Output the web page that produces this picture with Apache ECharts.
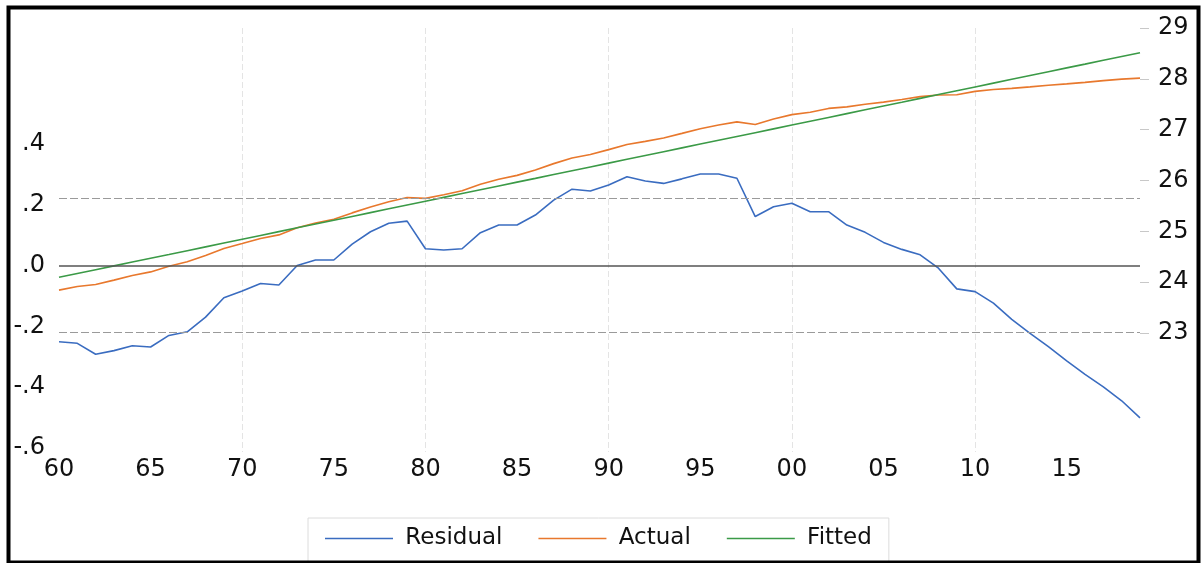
<!DOCTYPE html>
<html>
<head>
<meta charset="utf-8">
<script src="https://cdn.jsdelivr.net/npm/echarts@6/dist/echarts.min.js"></script>
<style>
  html, body { margin: 0; padding: 0; background: #ffffff; }
  #chart { width: 1202px; height: 563px; }
</style>
</head>
<body>
<div id="chart"></div>
<script>
// Annual observations, 1960-2019
const years = [
  1960, 1961, 1962, 1963, 1964, 1965, 1966, 1967, 1968, 1969,
  1970, 1971, 1972, 1973, 1974, 1975, 1976, 1977, 1978, 1979,
  1980, 1981, 1982, 1983, 1984, 1985, 1986, 1987, 1988, 1989,
  1990, 1991, 1992, 1993, 1994, 1995, 1996, 1997, 1998, 1999,
  2000, 2001, 2002, 2003, 2004, 2005, 2006, 2007, 2008, 2009,
  2010, 2011, 2012, 2013, 2014, 2015, 2016, 2017, 2018, 2019
];

// Regression residuals (left axis)
const residual = [
  -0.251, -0.256, -0.292, -0.280, -0.264, -0.268, -0.230, -0.218, -0.170, -0.106,
  -0.084, -0.059, -0.064,  0.000,  0.018,  0.018,  0.070,  0.111,  0.139,  0.146,
   0.055,  0.051,  0.055,  0.108,  0.133,  0.133,  0.166,  0.215,  0.251,  0.245,
   0.265,  0.292,  0.278,  0.270,  0.285,  0.301,  0.301,  0.287,  0.161,  0.193,
   0.205,  0.177,  0.177,  0.133,  0.109,  0.076,  0.053,  0.035, -0.009, -0.077,
  -0.086, -0.124, -0.177, -0.223, -0.267, -0.314, -0.358, -0.399, -0.445, -0.501
];

// Actual values of the dependent variable (right axis)
const actual = [
  23.844, 23.914, 23.953, 24.040, 24.131, 24.202, 24.314, 24.401, 24.524, 24.663,
  24.760, 24.860, 24.930, 25.069, 25.162, 25.237, 25.363, 25.479, 25.582, 25.664,
  25.648, 25.719, 25.798, 25.926, 26.026, 26.101, 26.208, 26.332, 26.443, 26.512,
  26.607, 26.709, 26.770, 26.837, 26.927, 27.018, 27.092, 27.153, 27.102, 27.209,
  27.296, 27.343, 27.418, 27.449, 27.500, 27.542, 27.593, 27.650, 27.681, 27.688,
  27.754, 27.791, 27.813, 27.842, 27.873, 27.901, 27.931, 27.965, 27.994, 28.013
];

// Fitted values from the trend regression (right axis)
const fitted = [
  24.095, 24.170, 24.245, 24.320, 24.395, 24.470, 24.544, 24.619, 24.694, 24.769,
  24.844, 24.919, 24.994, 25.069, 25.144, 25.219, 25.293, 25.368, 25.443, 25.518,
  25.593, 25.668, 25.743, 25.818, 25.893, 25.968, 26.042, 26.117, 26.192, 26.267,
  26.342, 26.417, 26.492, 26.567, 26.642, 26.717, 26.791, 26.866, 26.941, 27.016,
  27.091, 27.166, 27.241, 27.316, 27.391, 27.466, 27.540, 27.615, 27.690, 27.765,
  27.840, 27.915, 27.990, 28.065, 28.140, 28.215, 28.289, 28.364, 28.439, 28.514
];

// Axis tick labels
const yearTicks = [1960, 1965, 1970, 1975, 1980, 1985, 1990, 1995, 2000, 2005, 2010, 2015];
const residualTicks = [-0.6, -0.4, -0.2, 0.0, 0.2, 0.4];
const levelTicks = [23, 24, 25, 26, 27, 28, 29];

// Standard error of the regression, drawn as dashed bands around zero
const residualSE = 0.217;

const FONT = 'DejaVu Sans';

const pairs = (vals) => years.map((y, i) => [y, vals[i]]);

const chart = echarts.init(document.getElementById('chart'), null, { renderer: 'canvas' });

chart.setOption({
  animation: false,
  backgroundColor: '#ffffff',
  textStyle: { fontFamily: FONT },
  grid: { left: 59, right: 62, top: 28, height: 424, containLabel: false },
  legend: {
    data: ['Residual', 'Actual', 'Fitted'],
    left: 308,
    top: 518,
    orient: 'horizontal',
    padding: [9, 17, 12, 17],
    borderColor: '#dcdcdc',
    borderWidth: 1,
    icon: 'rect',
    itemWidth: 68,
    itemHeight: 1.6,
    itemGap: 36,
    formatter: ' {name}',
    textStyle: { fontFamily: FONT, fontSize: 23, color: '#111' }
  },
  xAxis: [
    {
      type: 'value',
      min: 1960,
      max: 2019,
      position: 'bottom',
      axisLine: { show: false },
      axisTick: { show: false },
      splitLine: { show: false },
      axisLabel: {
        customValues: yearTicks,
        margin: 6,
        fontFamily: FONT,
        fontSize: 24,
        color: '#111',
        formatter: (v) => String(Math.round(v) % 100).padStart(2, '0')
      }
    },
    {
      // decade gridlines only
      type: 'value',
      min: 1960,
      max: 2019,
      interval: 10,
      position: 'top',
      axisLine: { show: false },
      axisTick: { show: false },
      axisLabel: { show: false },
      splitLine: {
        show: true,
        showMinLine: false,
        showMaxLine: false,
        lineStyle: { color: '#e4e4e4', width: 1, type: [6, 3] }
      }
    }
  ],
  yAxis: [
    {
      type: 'value',
      position: 'left',
      min: -0.6135,
      max: 0.7812,
      axisLine: { show: false },
      axisTick: { show: false },
      splitLine: { show: false },
      axisLabel: {
        customValues: residualTicks,
        margin: 14,
        fontFamily: FONT,
        fontSize: 24,
        color: '#111',
        formatter: (v) => v.toFixed(1).replace('0.', '.')
      }
    },
    {
      type: 'value',
      position: 'right',
      min: 20.659,
      max: 29,
      axisLine: { show: false },
      axisTick: {
        show: true,
        customValues: levelTicks,
        length: 9,
        lineStyle: { color: '#c8c8c8', width: 1 }
      },
      splitLine: { show: false },
      axisLabel: {
        customValues: levelTicks,
        margin: 18,
        fontFamily: FONT,
        fontSize: 24,
        color: '#111'
      }
    }
  ],
  series: [
    {
      name: 'Residual',
      type: 'line',
      xAxisIndex: 0,
      yAxisIndex: 0,
      data: pairs(residual),
      symbol: 'none',
      lineStyle: { color: '#3a6cc0', width: 1.6 },
      itemStyle: { color: '#3a6cc0' },
      z: 4,
      markLine: {
        silent: true,
        symbol: 'none',
        label: { show: false },
        data: [
          { yAxis: 0, lineStyle: { color: '#555555', width: 1.5, type: 'solid' } },
          { yAxis: residualSE, lineStyle: { color: '#9a9a9a', width: 1.2, type: [8, 3] } },
          { yAxis: -residualSE, lineStyle: { color: '#9a9a9a', width: 1.2, type: [8, 3] } }
        ]
      }
    },
    {
      name: 'Actual',
      type: 'line',
      xAxisIndex: 0,
      yAxisIndex: 1,
      data: pairs(actual),
      symbol: 'none',
      lineStyle: { color: '#e8782d', width: 1.6 },
      itemStyle: { color: '#e8782d' },
      z: 3
    },
    {
      name: 'Fitted',
      type: 'line',
      xAxisIndex: 0,
      yAxisIndex: 1,
      data: pairs(fitted),
      symbol: 'none',
      lineStyle: { color: '#3b9a47', width: 1.6 },
      itemStyle: { color: '#3b9a47' },
      z: 3
    }
  ],
  graphic: [
    {
      type: 'rect',
      left: 6,
      top: 5,
      shape: { x: 0, y: 0, width: 1190, height: 555 },
      style: { fill: 'none', stroke: '#000000', lineWidth: 4 },
      silent: true,
      z: 100
    }
  ]
});
</script>
</body>
</html>
